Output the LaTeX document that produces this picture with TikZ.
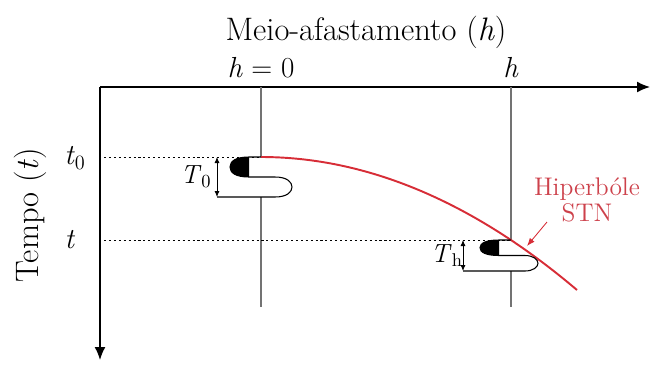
\documentclass[tikz,border=0pt]{standalone}
\usetikzlibrary{arrows.meta}
\definecolor{stnred}{RGB}{215,45,55}
\definecolor{labelred}{RGB}{205,65,75}

\begin{document}
\begin{tikzpicture}[
  x=0.02cm, y=-0.02cm,
  axis/.style={line width=0.9pt, line join=miter},
  tip/.style={-{Latex[length=2.6mm, width=2.2mm]}},
  trace/.style={line width=0.6pt, black!55},
  guide/.style={line width=0.45pt, dash pattern=on 1.2pt off 1.6pt},
  bracket/.style={line width=0.5pt, {Latex[length=1.2mm, width=1mm]}-{Latex[length=1.2mm, width=1mm]}},
  wave/.style={line width=0.6pt},
  head/.style={font=\fontsize{18.5}{20}\selectfont, inner sep=0pt},
  lbl/.style={font=\fontsize{16.5}{18}\selectfont, inner sep=0pt},
  small/.style={font=\fontsize{15}{17}\selectfont, inner sep=0pt}
]
\useasboundingbox (0,0) rectangle (650,369);

% Draw axes
\coordinate (O) at (100,87);
\coordinate (hend) at (650,87);
\coordinate (tend) at (100,360);
\draw[axis, tip] (O) -- (hend);
\draw[axis, tip] (O) -- (tend);
\node[head] (title) at (366,32) {Meio-afastamento (\textit{h})};
\node[head, rotate=90] (tempo) at (30,215) {Tempo (\textit{t})};

% Draw traces at h = 0 and h
\coordinate (z0) at (261,87);
\coordinate (w0) at (261,157);
\coordinate (b0) at (261,197);
\coordinate (e0) at (261,307);
\coordinate (zh) at (511,87);
\coordinate (wh) at (511,240);
\coordinate (bh) at (511,271);
\coordinate (eh) at (511,307);
\draw[trace] (z0) -- (w0);
\draw[trace] (b0) -- (e0);
\draw[trace] (zh) -- (wh);
\draw[trace] (bh) -- (eh);
\node[lbl] (h0) at (261,68) {\textit{h} = 0};
\node[lbl] (hh) at (511,68) {\textit{h}};

% Draw time guides
\coordinate (g0) at (104,157);
\coordinate (gh) at (104,240);
\draw[guide] (g0) -- (w0);
\draw[guide] (gh) -- (wh);
\node[lbl] (t0) at (75,158) {\textit{t}\textsubscript{0}};
\node[lbl] (tt) at (70,240) {\textit{t}};

% Draw NMO hyperbola
\coordinate (s1) at (577,290);
\draw[stnred, line width=1.1pt] (w0) .. controls (366,157) and (472,201) .. (s1);

% Draw wavelets
\foreach \w/\sy/\r/\k in {w0/1/31/-44, wh/0.775/27/-48} {
  \begin{scope}[shift={(\w)}, yscale=\sy]
    \fill (-12,0) .. controls (-25,0) and (-31,4) .. (-31,10) .. controls (-31,16) and (-25,20) .. (-12,20) -- cycle;
    \draw[wave] (0,0) -- (-12,0) .. controls (-25,0) and (-31,4) .. (-31,10) .. controls (-31,16) and (-25,20) .. (-12,20)
      -- (14,20) .. controls ({\r-5},20) and (\r,25) .. (\r,30) .. controls (\r,35) and ({\r-5},40) .. (14,40) -- (\k,40);
    \draw[bracket] (\k,0) -- (\k,40);
  \end{scope}
}
\node[small] (T0) at (196,177) {\textit{T}\textsubscript{0}};
\node[small] (Th) at (447,256) {\textit{T}\textsubscript{h}};

% Draw label of the hyperbola
\node[font=\fontsize{14.5}{15}\selectfont, inner sep=0pt, text=labelred, align=center] (stn) at (587,200) {Hiperbóle\\STN};
\coordinate (pa) at (547,222);
\coordinate (pb) at (527,246);
\draw[stnred, line width=0.5pt, -{Latex[length=1.6mm, width=1.2mm]}] (pa) -- (pb);
\end{tikzpicture}
\end{document}
